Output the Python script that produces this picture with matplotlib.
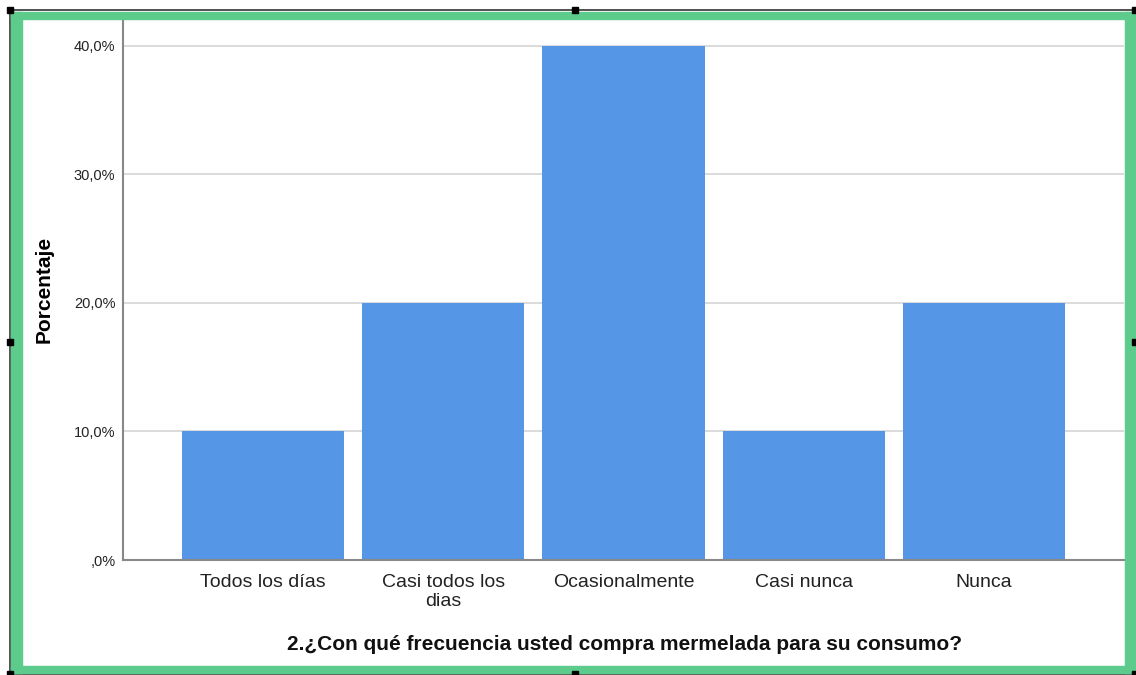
import matplotlib.pyplot as plt
import matplotlib.patches as mpatches
from matplotlib.ticker import FuncFormatter

categorias = ["Todos los días", "Casi todos los\ndias", "Ocasionalmente", "Casi nunca", "Nunca"]
porcentajes = [10.0, 20.0, 40.0, 10.0, 20.0]
yticks = [0, 10, 20, 30, 40]

plt.rcParams['font.family'] = ['Liberation Sans', 'DejaVu Sans']

W, H = 1136, 675
fig = plt.figure(figsize=(W / 100, H / 100), dpi=100)
ax = fig.add_axes([123 / W, 1 - 560 / H, (1124 - 123) / W, (560 - 19) / H])

x = list(range(len(categorias)))
ax.bar(x, porcentajes, width=0.9, color="#5596e6", zorder=2)
ax.set_xlim(-0.777, len(categorias) - 1 + 0.777)
ax.set_ylim(0, 42.1)


def fmt(v, pos):
    s = ("%.1f%%" % v).replace(".", ",")
    return ",0%" if v == 0 else s


ax.set_yticks(yticks)
ax.yaxis.set_major_formatter(FuncFormatter(fmt))
ax.grid(axis="y", color="#d4d4d4", linewidth=1.2, zorder=0)
ax.tick_params(axis="y", length=0, pad=5.5, labelsize=10.5, labelcolor="#222222")
ax.set_xticks(x)
ax.set_xticklabels(categorias, fontsize=14, color="#222222", linespacing=1.15)
ax.tick_params(axis="x", length=0, pad=10)

for s in ["top", "right"]:
    ax.spines[s].set_visible(False)
for s in ["left", "bottom"]:
    ax.spines[s].set_color("#888888")
    ax.spines[s].set_linewidth(1.5)

ax.set_ylabel("Porcentaje", fontsize=15, fontweight="bold")
ax.yaxis.set_label_coords(-69 / (1124 - 123), (560 - 289) / (560 - 19))
fig.text(625 / W, 1 - 645 / H, "2.¿Con qué frecuencia usted compra mermelada para su consumo?",
         fontsize=15, fontweight="bold", ha="center", va="center", color="#111111")

# borde negro
fig.patches.append(mpatches.Rectangle((10 / W, 1 - 674 / H), 1125 / W, 664 / H, transform=fig.transFigure,
                                      fill=False, edgecolor="#333333", linewidth=1.2, zorder=5))
# marco verde (lados mas gruesos que arriba/abajo)
verde = "#5ccb8c"
for rx, ry, rw, rh in [(11, 12, 1125, 7), (11, 666, 1125, 7), (11, 12, 11, 661), (1125, 12, 11, 661)]:
    fig.patches.append(mpatches.Rectangle((rx / W, 1 - (ry + rh) / H), rw / W, rh / H,
                                          transform=fig.transFigure, color=verde, zorder=6))
for hx, hy in [(10, 10), (575, 10), (1135, 10), (10, 342), (1135, 342), (10, 674), (575, 674), (1135, 674)]:
    fig.patches.append(mpatches.Rectangle(((hx - 3) / W, 1 - (hy + 3) / H), 6 / W, 6 / H,
                                          transform=fig.transFigure, color="black", zorder=7))

fig.savefig("out.png", dpi=100)
